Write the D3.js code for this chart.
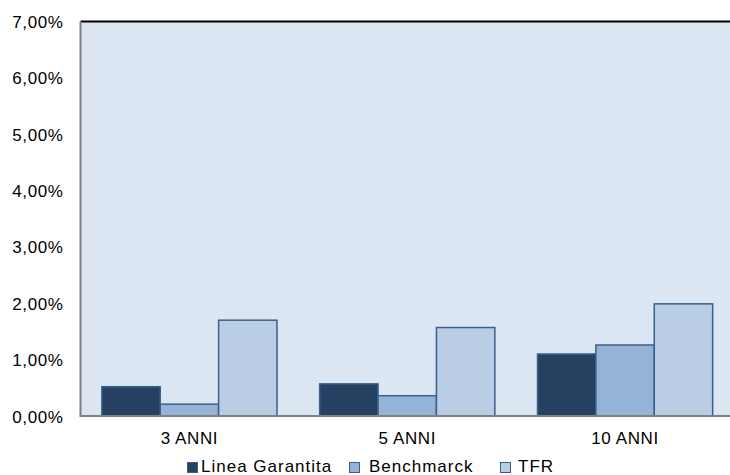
<!DOCTYPE html>
<html><head><meta charset="utf-8">
<script src="https://cdn.jsdelivr.net/npm/d3@7"></script>
<style>body{margin:0;background:#fff;}svg{display:block;font-family:"Liberation Sans",Arial,sans-serif;}</style>
</head><body>
<svg id="c" width="730" height="475"></svg>
<script>
const categories = ["3 ANNI", "5 ANNI", "10 ANNI"];
const seriesNames = ["Linea Garantita", "Benchmarck", "TFR"];
const lineaGarantita = [0.52, 0.57, 1.10];
const benchmarck = [0.21, 0.36, 1.26];
const tfr = [1.70, 1.57, 1.99];
const yTicks = [0, 1, 2, 3, 4, 5, 6, 7];
const colors = ["#254061", "#95b3d7", "#b9cde5"];

const seriesValues = [lineaGarantita, benchmarck, tfr];
const svg = d3.select("#c");
const L = 80.5, R = 734, T = 21.5, B = 416;
const x = d3.scaleBand().domain(categories).range([L, R]).paddingInner(0.196).paddingOuter(0.098);
const xs = d3.scaleBand().domain(seriesNames).range([0, x.bandwidth()]);
const y = d3.scaleLinear().domain([0, 7]).range([B, T]);

svg.append("rect").attr("x", L).attr("y", T).attr("width", R - L).attr("height", B - T).attr("fill", "#dce6f2");

const fmt = v => v.toFixed(2).replace(".", ",") + "%";
svg.append("g").selectAll("text").data(yTicks).join("text")
  .attr("x", 63.5).attr("y", d => y(d) + 6.5).attr("text-anchor", "end")
  .attr("font-size", 17).attr("letter-spacing", 0.6).attr("fill", "#000").text(fmt);

const data = [];
categories.forEach((c, i) => seriesNames.forEach((s, j) => data.push({c, s, j, v: seriesValues[j][i]})));
svg.append("g").selectAll("rect").data(data).join("rect")
  .attr("x", d => x(d.c) + xs(d.s)).attr("width", xs.bandwidth())
  .attr("y", d => y(d.v)).attr("height", d => y(0) - y(d.v))
  .attr("fill", d => colors[d.j]).attr("stroke", "#3a5f8c").attr("stroke-width", 1.5);

svg.append("line").attr("x1", L).attr("x2", R).attr("y1", T).attr("y2", T).attr("stroke", "#000").attr("stroke-width", 2);
svg.append("line").attr("x1", L).attr("x2", L).attr("y1", T).attr("y2", B).attr("stroke", "#808080").attr("stroke-width", 2);
svg.append("line").attr("x1", L - 1).attr("x2", R).attr("y1", B).attr("y2", B).attr("stroke", "#808080").attr("stroke-width", 2);

svg.append("g").selectAll("text").data(categories).join("text")
  .attr("x", d => x(d) + x.bandwidth() / 2).attr("y", 444).attr("text-anchor", "middle")
  .attr("font-size", 17).attr("letter-spacing", 0.6).attr("fill", "#000").text(d => d);

const legMarkX = [187, 349, 500];
const legTextX = [201, 369, 518];
const lg = svg.append("g").selectAll("g").data(seriesNames).join("g");
lg.append("rect").attr("x", (d, i) => legMarkX[i] + 0.5).attr("y", 462.5).attr("width", 10).attr("height", 10)
  .attr("fill", (d, i) => colors[i]).attr("stroke", "#3a5f8c").attr("stroke-width", 1);
lg.append("text").attr("x", (d, i) => legTextX[i]).attr("y", 471.5).attr("font-size", 17).attr("letter-spacing", 1)
  .attr("fill", "#000").text(d => d);
</script>
</body></html>
